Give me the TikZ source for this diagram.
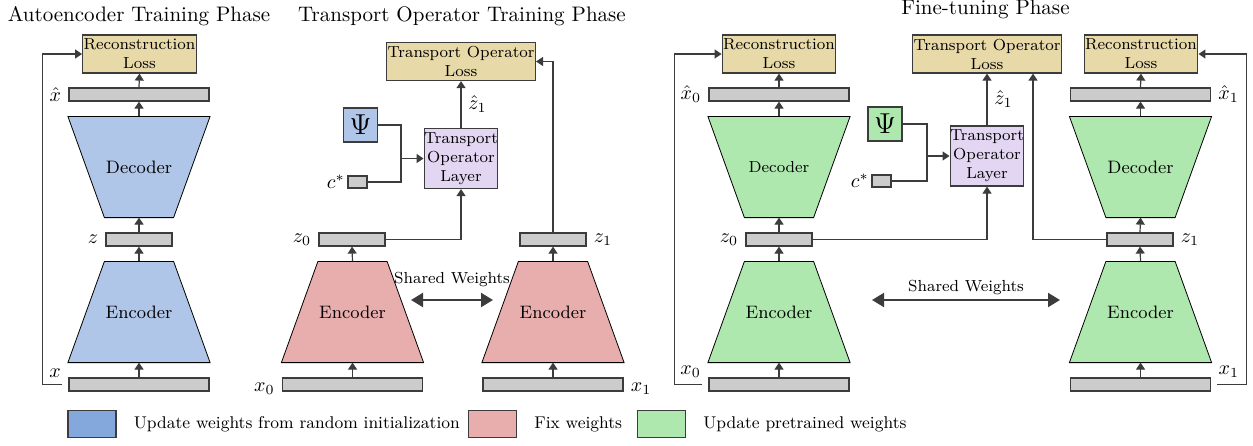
\documentclass[tikz,border=0pt]{standalone}
\usepackage{amssymb,amsmath}
\usepackage{xcolor}
\usepackage{tikz}
\usetikzlibrary{arrows.meta}
\usetikzlibrary{positioning}
\usetikzlibrary{calc}
\usetikzlibrary{backgrounds}
\definecolor{linecolor}{HTML}{3C3C3C}
\definecolor{aeblue}{HTML}{B0C6E8}
\definecolor{legblue}{HTML}{84A8DC}
\definecolor{fixred}{HTML}{E8AEAE}
\definecolor{ftgreen}{HTML}{AEE8AE}
\definecolor{losstan}{HTML}{E8D9A8}
\definecolor{layerlav}{HTML}{E2D6F2}
\definecolor{bargray}{HTML}{CCCCCC}

\tikzset{
  bar/.style={draw=linecolor, fill=bargray, minimum width=70pt, minimum height=6.5pt, inner sep=0pt},
  shortbar/.style={bar, minimum width=33pt},
  cbar/.style={bar, minimum width=9.5pt, minimum height=6pt},
  netbox/.style={minimum width=70.5pt, minimum height=50pt, inner sep=0pt, font=\small},
  lossbox/.style={draw=linecolor, fill=losstan, align=center, font=\footnotesize,
    inner xsep=0.5pt, inner ysep=0pt, minimum height=19pt},
  layerbox/.style={draw=linecolor, fill=layerlav, align=center, font=\footnotesize,
    inner sep=0pt, minimum width=35.5pt, minimum height=30pt},
  psibox/.style={draw=linecolor, minimum size=17pt, inner sep=0pt, font=\Large},
  legbox/.style={draw=linecolor, minimum width=24pt, minimum height=13.5pt},
  legtext/.style={font=\fontsize{8.5}{10}\selectfont},
  title/.style={font=\fontsize{10.5}{12}\selectfont},
  lbl/.style={inner sep=0.5pt}
}

\begin{document}
\begin{tikzpicture}[x=0.5pt,y=-0.5pt,line width=0.6pt,draw=linecolor,>={Triangle[length=3.5pt,width=4.5pt]}]
\useasboundingbox (0,0) rectangle (1253,445);
%% titles
\node[title] (tAE) at (139,16) {Autoencoder Training Phase};
\node[title] (tTO) at (462,16) {Transport Operator Training Phase};
\node[title] (tFT) at (985.5,9) {Fine-tuning Phase};

%% autoencoder training phase
\node[lossbox, minimum width=53.5pt] (recA) at (139.5,54) {Reconstruction\\Loss};
\node[bar] (xhatA) at (139,94.5) {};
\node[netbox] (decA) at (139,167) {Decoder};
\node[shortbar] (zA) at (139,239.5) {};
\node[netbox] (encA) at (139,312) {Encoder};
\node[bar] (xA) at (139,384.5) {};
\node[left] (lxhatA) at (xhatA.west) {$\hat{x}$};
\node[left] (lzA) at (zA.west) {$z$};
\node[lbl, anchor=south east] (lxA) at ([xshift=-3pt,yshift=-1pt]xA.north west) {$x$};
\foreach \a/\b in {xA/encA, encA/zA, zA/decA, decA/xhatA, xhatA/recA}
    \draw[->] (\a.north) -- (\b.south);
\draw[->] ([xshift=-3pt]xA.west) -- ++(-20,0) |- (recA.west);

%% transport operator training phase
\node[lossbox, minimum width=72pt] (tolossA) at (461,61.5) {Transport Operator\\Loss};
\node[layerbox] (tolayerA) at (461,158.5) {Transport\\Operator\\Layer};
\node[psibox, fill=aeblue] (psiA) at (360.5,125) {$\Psi$};
\node[cbar] (cA) at (357.5,182) {};
\node[left, inner sep=1pt] (lcA) at (cA.west) {$c^*$};
\coordinate[left=11.25pt of tolayerA.west] (jA);
\node[shortbar] (z0A) at (352,239.5) {};
\node[netbox] (encB) at (352.5,312) {Encoder};
\node[bar] (x0A) at (352.5,384.5) {};
\node[shortbar] (z1A) at (553,239.5) {};
\node[netbox] (encC) at (553,312) {Encoder};
\node[bar] (x1A) at (553,384.5) {};
\node[left] (lz0A) at (z0A.west) {$z_0$};
\node[right] (lz1A) at (z1A.east) {$z_1$};
\node[left, yshift=-2pt] (lx0A) at (x0A.west) {$x_0$};
\node[right, yshift=-2pt] (lx1A) at (x1A.east) {$x_1$};
\foreach \a/\b in {x0A/encB, encB/z0A, x1A/encC, encC/z1A}
    \draw[->] (\a.north) -- (\b.south);
\draw (psiA.east) -| (jA);
\draw (cA.east) -| (jA);
\draw[->] (jA) -- (tolayerA.west);
\draw[->] (z0A.east) -| (tolayerA.south);
\draw[->] (tolayerA.north) -- node[right] (lzhA) {$\hat{z}_1$} (tolossA.south);
\draw[->] (z1A.north) |- (tolossA.east);
\coordinate (swA1) at (411,300);
\coordinate (swA2) at (493,300);
\draw[{Triangle[length=6pt,width=7pt]}-{Triangle[length=6pt,width=7pt]}, line width=1pt] (swA1) -- node[above=3pt, font=\footnotesize] (swAt) {Shared Weights} (swA2);

%% fine-tuning phase
\node[lossbox, minimum width=53.5pt] (recB) at (779,54) {Reconstruction\\Loss};
\node[bar] (xhat0B) at (779,94.5) {};
\node[netbox, font=\footnotesize] (decB) at (779,167) {Decoder};
\node[shortbar] (z0B) at (779,239.5) {};
\node[netbox] (encD) at (779,312) {Encoder};
\node[bar] (x0B) at (779,384.5) {};
\node[left] (lxhat0B) at (xhat0B.west) {$\hat{x}_0$};
\node[left] (lz0B) at (z0B.west) {$z_0$};
\node[lbl, anchor=south east] (lx0B) at ([xshift=-3pt,yshift=-1pt]x0B.north west) {$x_0$};

\node[lossbox, minimum width=72pt] (tolossB) at (987,54) {Transport Operator\\Loss};
\node[layerbox] (tolayerB) at (987,156) {Transport\\Operator\\Layer};
\node[psibox, fill=ftgreen] (psiB) at (885,124) {$\Psi$};
\node[cbar] (cB) at (881.5,181) {};
\node[left, inner sep=1pt] (lcB) at (cB.west) {$c^*$};
\coordinate[left=11.25pt of tolayerB.west] (jB);

\node[lossbox, minimum width=53.5pt] (recC) at (1141,54) {Reconstruction\\Loss};
\node[bar] (xhat1B) at (1140.5,94.5) {};
\node[netbox] (decC) at (1140.5,167) {Decoder};
\node[shortbar] (z1B) at (1140,239.5) {};
\node[netbox] (encE) at (1140.5,312) {Encoder};
\node[bar] (x1B) at (1140.5,384.5) {};
\node[right] (lxhat1B) at (xhat1B.east) {$\hat{x}_1$};
\node[right] (lz1B) at (z1B.east) {$z_1$};
\node[lbl, anchor=south west] (lx1B) at ([xshift=3pt,yshift=-1pt]x1B.north east) {$x_1$};

\foreach \a/\b in {x0B/encD, encD/z0B, z0B/decB, decB/xhat0B, xhat0B/recB, x1B/encE, encE/z1B, z1B/decC, decC/xhat1B, xhat1B/recC}
    \draw[->] (\a.north) -- (\b.south);
\draw[->] ([xshift=-3pt]x0B.west) -- ++(-28,0) |- (recB.west);
\draw[->] ([xshift=3pt]x1B.east) -- ++(29,0) |- (recC.east);
\draw (psiB.east) -| (jB);
\draw (cB.east) -| (jB);
\draw[->] (jB) -- (tolayerB.west);
\draw[->] (z0B.east) -| (tolayerB.south);
\draw[->] (tolayerB.north) -- node[right] (lzhB) {$\hat{z}_1$} (tolossB.south);
\draw[->] (z1B.west) -| ([xshift=23pt]tolossB.south);
\coordinate (swB1) at (872,300);
\coordinate (swB2) at (1060,300);
\draw[{Triangle[length=6pt,width=7pt]}-{Triangle[length=6pt,width=7pt]}, line width=1pt] (swB1) -- node[above, inner sep=2pt, font=\footnotesize] (swBt) {Shared Weights} (swB2);

%% trapezoids behind the labels
\begin{scope}[on background layer]
\foreach \n/\c in {encA/aeblue, encB/fixred, encC/fixred, encD/ftgreen, encE/ftgreen}
    \draw[fill=\c] (\n.south west) -- (\n.south east) -- ([xshift=-18.25pt]\n.north east) -- ([xshift=18.25pt]\n.north west) -- cycle;
\foreach \n/\c in {decA/aeblue, decB/ftgreen, decC/ftgreen}
    \draw[fill=\c] (\n.north west) -- (\n.north east) -- ([xshift=-18.25pt]\n.south east) -- ([xshift=18.25pt]\n.south west) -- cycle;
\end{scope}

%% legend
\node[legbox, fill=legblue] (legA) at (92,424) {};
\node[right=5pt of legA, legtext] (legAt) {Update weights from random initialization};
\node[legbox, fill=fixred] (legB) at (492.5,424) {};
\node[right=5pt of legB, legtext] (legBt) {Fix weights};
\node[legbox, fill=ftgreen] (legC) at (661.5,424) {};
\node[right=5pt of legC, legtext] (legCt) {Update pretrained weights};
\end{tikzpicture}
\end{document}
